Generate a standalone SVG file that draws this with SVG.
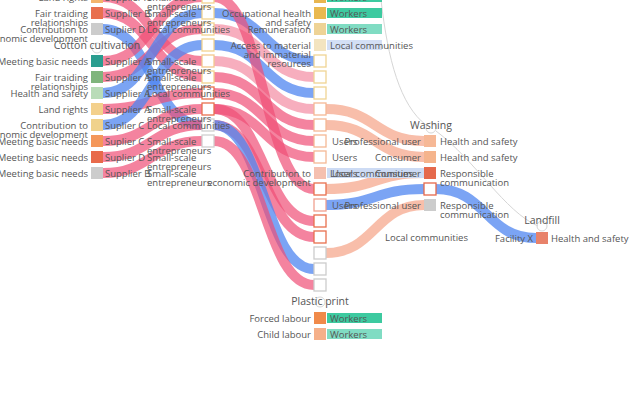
<svg xmlns="http://www.w3.org/2000/svg" width="640" height="400" viewBox="0 0 640 400">
<style>
.t{font-family:"Open Sans","Noto Sans",sans-serif;font-size:9.5px;fill:#555}
.ti{font-size:10.5px}
.e{text-anchor:end}
.m{text-anchor:middle}
.lk{fill:none;stroke-width:10}
.pk{stroke:#ef4f76;stroke-opacity:.7}
.lp{stroke:#f48ca2;stroke-opacity:.7}
.bl{stroke:#4f86f0;stroke-opacity:.75}
.sa{stroke:#f5a286;stroke-opacity:.7}
.h{fill:#fff;stroke-width:1.3}
.pl{fill:none;stroke:#d6d6d6;stroke-width:1}
</style>
<rect width="640" height="400" fill="#fff"/>
<g id="process-lines">
<path class="pl" d="M381 0 C388 60 400 105 426 125"/>
<path class="pl" d="M436 131 C475 160 505 212 538 226"/>
<circle class="pl" cx="431" cy="128" r="5"/>
<circle class="pl" cx="542" cy="226" r="5"/>
<circle class="pl" cx="320" cy="302" r="5"/>
<circle class="pl" cx="97" cy="48" r="5"/>
</g>
<g id="links">
<path class="lk pk" d="M103 -3 C152 -3 152 61 202 61"/>
<path class="lk pk" d="M103 13 C152 13 152 77 202 77"/>
<path class="lk bl" d="M103 29 C152 29 152 125 202 125"/>
<path class="lk pk" d="M103 61 C152 61 152 -3 202 -3"/>
<path class="lk pk" d="M103 77 C152 77 152 29 202 29"/>
<path class="lk bl" d="M103 93 C152 93 152 13 202 13"/>
<path class="lk pk" d="M103 109 C152 109 152 93 202 93"/>
<path class="lk bl" d="M103 125 C152 125 152 45 202 45"/>
<path class="lk pk" d="M103 141 C152 141 152 109 202 109"/>
<path class="lk pk" d="M103 157 C152 157 152 125 202 125"/>
<path class="lk pk" d="M103 173 C152 173 152 141 202 141"/>
<path class="lk bl" d="M214 13 C264 13 264 61 314 61"/>
<path class="lk lp" d="M214 29 C264 29 264 77 314 77"/>
<path class="lk bl" d="M214 45 C264 45 264 93 314 93"/>
<path class="lk lp" d="M214 61 C264 61 264 109 314 109"/>
<path class="lk pk" d="M214 77 C264 77 264 125 314 125"/>
<path class="lk pk" d="M214 93 C264 93 264 141 314 141"/>
<path class="lk pk" d="M214 109 C264 109 264 157 314 157"/>
<path class="lk pk" d="M214 -3 C264 -3 264 189 314 189"/>
<path class="lk pk" d="M214 109 C264 109 264 221 314 221"/>
<path class="lk pk" d="M214 125 C264 125 264 237 314 237"/>
<path class="lk bl" d="M214 125 C264 125 264 269 314 269"/>
<path class="lk pk" d="M214 141 C264 141 264 285 314 285"/>
<path class="lk sa" d="M326 109 C375 109 375 141 424 141"/>
<path class="lk sa" d="M326 125 C375 125 375 157 424 157"/>
<path class="lk sa" d="M326 189 C375 189 375 173 424 173"/>
<path class="lk bl" d="M326 205 C375 205 375 189 424 189"/>
<path class="lk sa" d="M326 253 C375 253 375 205 424 205"/>
<path class="lk bl" d="M436 189 C486 189 486 238 536 238"/>
</g>
<g id="bars">
<rect x="327" y="-8" width="55" height="10" fill="#3dcaa0"/>
<rect x="327" y="8" width="55" height="10" fill="#3dcaa0"/>
<rect x="327" y="24" width="55" height="10" fill="#80dcc3"/>
<rect x="327" y="40" width="55" height="10" fill="#d3dff5"/>
<rect x="327" y="168" width="97" height="10" fill="#cddbf4"/>
<rect x="327" y="313" width="55" height="10" fill="#3dcaa0"/>
<rect x="327" y="329" width="55" height="10" fill="#80dcc3"/>
</g>
<g id="col1">
<rect x="91" y="-9" width="12" height="12" fill="#f3b46c"/>
<rect x="91" y="7" width="12" height="12" fill="#e8704f"/>
<rect x="91" y="23" width="12" height="12" fill="#cccccc"/>
<rect x="91" y="55" width="12" height="12" fill="#2a9d8f"/>
<rect x="91" y="71" width="12" height="12" fill="#80b57d"/>
<rect x="91" y="87" width="12" height="12" fill="#b9dcb8"/>
<rect x="91" y="103" width="12" height="12" fill="#f3d08c"/>
<rect x="91" y="119" width="12" height="12" fill="#f0d28c"/>
<rect x="91" y="135" width="12" height="12" fill="#f4975a"/>
<rect x="91" y="151" width="12" height="12" fill="#e86a4b"/>
<rect x="91" y="167" width="12" height="12" fill="#cccccc"/>
</g>
<g id="col2">
<rect class="h" x="202" y="-9" width="12" height="12" stroke="#f3d38e"/>
<rect class="h" x="202" y="7" width="12" height="12" stroke="#f3d38e"/>
<rect class="h" x="202" y="23" width="12" height="12" stroke="#f3d38e"/>
<rect class="h" x="202" y="39" width="12" height="12" stroke="#f3d38e"/>
<rect class="h" x="202" y="55" width="12" height="12" stroke="#f3c98e"/>
<rect class="h" x="202" y="71" width="12" height="12" stroke="#f3d38e"/>
<rect class="h" x="202" y="87" width="12" height="12" stroke="#e8704f"/>
<rect class="h" x="202" y="103" width="12" height="12" stroke="#e8704f"/>
<rect class="h" x="202" y="119" width="12" height="12" stroke="#d0d0d0"/>
<rect class="h" x="202" y="135" width="12" height="12" stroke="#d0d0d0"/>
</g>
<g id="col3">
<rect x="314" y="-9" width="12" height="12" fill="#e8b64f"/>
<rect x="314" y="7" width="12" height="12" fill="#e9b950"/>
<rect x="314" y="23" width="12" height="12" fill="#eed396"/>
<rect x="314" y="39" width="12" height="12" fill="#f3e4c0"/>
<rect class="h" x="314" y="55" width="12" height="12" stroke="#f0d494"/>
<rect class="h" x="314" y="71" width="12" height="12" stroke="#f0d494"/>
<rect class="h" x="314" y="87" width="12" height="12" stroke="#f0d494"/>
<rect class="h" x="314" y="103" width="12" height="12" stroke="#f5b895"/>
<rect class="h" x="314" y="119" width="12" height="12" stroke="#f5b895"/>
<rect class="h" x="314" y="135" width="12" height="12" stroke="#f5b895"/>
<rect class="h" x="314" y="151" width="12" height="12" stroke="#f5b895"/>
<rect x="314" y="167" width="12" height="12" fill="#f5c0b0"/>
<rect class="h" x="314" y="183" width="12" height="12" stroke="#e8704f"/>
<rect class="h" x="314" y="199" width="12" height="12" stroke="#f0a090"/>
<rect class="h" x="314" y="215" width="12" height="12" stroke="#e8704f"/>
<rect class="h" x="314" y="231" width="12" height="12" stroke="#e8704f"/>
<rect class="h" x="314" y="247" width="12" height="12" stroke="#cccccc"/>
<rect class="h" x="314" y="263" width="12" height="12" stroke="#cccccc"/>
<rect class="h" x="314" y="279" width="12" height="12" stroke="#cccccc"/>
<rect x="314" y="312" width="12" height="12" fill="#f08a4a"/>
<rect x="314" y="328" width="12" height="12" fill="#f5b08a"/>
</g>
<g id="col4">
<rect x="424" y="135" width="12" height="12" fill="#f6b896"/>
<rect x="424" y="151" width="12" height="12" fill="#f5b48c"/>
<rect x="424" y="167" width="12" height="12" fill="#e5694c"/>
<rect class="h" x="424" y="183" width="12" height="12" stroke="#e5694c"/>
<rect x="424" y="199" width="12" height="12" fill="#cccccc"/>
</g>
<g id="col5">
<rect x="536" y="232" width="12" height="12" fill="#e8826a"/>
</g>
<g id="labels">
<text class="t e" x="88" y="0.5">Land rights</text>
<text class="t e" x="88" y="16.5">Fair traiding<tspan x="88" dy="9">relationships</tspan></text>
<text class="t e" x="88" y="32.5">Contribution to<tspan x="88" dy="9">economic development</tspan></text>
<text class="t ti m" x="97" y="48.5">Cotton cultivation</text>
<text class="t e" x="88" y="64.5">Meeting basic needs</text>
<text class="t e" x="88" y="80.5">Fair traiding<tspan x="88" dy="9">relationships</tspan></text>
<text class="t e" x="88" y="96.5">Health and safety</text>
<text class="t e" x="88" y="112.5">Land rights</text>
<text class="t e" x="88" y="128.5">Contribution to<tspan x="88" dy="9">economic development</tspan></text>
<text class="t e" x="88" y="144.5">Meeting basic needs</text>
<text class="t e" x="88" y="160.5">Meeting basic needs</text>
<text class="t e" x="88" y="176.5">Meeting basic needs</text>
<text class="t" x="105" y="0.5">Supplier A</text>
<text class="t" x="105" y="16.5">Supplier B</text>
<text class="t" x="105" y="32.5">Suplier D</text>
<text class="t" x="105" y="64.5">Supplier A</text>
<text class="t" x="105" y="80.5">Supplier A</text>
<text class="t" x="105" y="96.5">Supplier A</text>
<text class="t" x="105" y="112.5">Supplier A</text>
<text class="t" x="105" y="128.5">Suplier C</text>
<text class="t" x="105" y="144.5">Suplier C</text>
<text class="t" x="105" y="160.5">Suplier D</text>
<text class="t" x="105" y="176.5">Supplier B</text>
<text class="t" x="147" y="0.5">Small-scale<tspan x="147" dy="9">entrepreneurs</tspan></text>
<text class="t" x="147" y="16.5">Small-scale<tspan x="147" dy="9">entrepreneurs</tspan></text>
<text class="t" x="147" y="32.5">Local communities</text>
<text class="t" x="147" y="64.5">Small-scale<tspan x="147" dy="9">entrepreneurs</tspan></text>
<text class="t" x="147" y="80.5">Small-scale<tspan x="147" dy="9">entrepreneurs</tspan></text>
<text class="t" x="147" y="96.5">Local communities</text>
<text class="t" x="147" y="112.5">Small-scale<tspan x="147" dy="9">entrepreneurs</tspan></text>
<text class="t" x="147" y="128.5">Local communities</text>
<text class="t" x="147" y="144.5">Small-scale<tspan x="147" dy="9">entrepreneurs</tspan></text>
<text class="t" x="147" y="160.5">Small-scale<tspan x="147" dy="9">entrepreneurs</tspan></text>
<text class="t" x="147" y="176.5">Small-scale<tspan x="147" dy="9">entrepreneurs</tspan></text>
<text class="t e" x="311" y="16.5">Occupational health<tspan x="311" dy="9">and safety</tspan></text>
<text class="t e" x="311" y="32.5">Remuneration</text>
<text class="t e" x="311" y="48.5">Access to material<tspan x="311" dy="9">and immaterial</tspan><tspan x="311" dy="9">resources</tspan></text>
<text class="t e" x="311" y="176.5">Contribution to<tspan x="311" dy="9">economic development</tspan></text>
<text class="t" x="330" y="0.5" fill="#333">Workers</text>
<text class="t" x="330" y="16.5">Workers</text>
<text class="t" x="330" y="32.5">Workers</text>
<text class="t" x="330" y="48.5">Local communities</text>
<text class="t" x="330" y="176.5">Local communities</text>
<text class="t" x="332" y="144.5">Users</text>
<text class="t" x="332" y="160.5">Users</text>
<text class="t" x="332" y="176.5">Users</text>
<text class="t" x="332" y="208.5">Users</text>
<text class="t e" x="421" y="144.5">Professional user</text>
<text class="t e" x="421" y="160.5">Consumer</text>
<text class="t e" x="421" y="176.5">Consumer</text>
<text class="t e" x="421" y="208.5">Professional user</text>
<text class="t" x="385" y="240.5">Local communities</text>
<text class="t ti m" x="431" y="128.5">Washing</text>
<text class="t" x="440" y="144.5">Health and safety</text>
<text class="t" x="440" y="160.5">Health and safety</text>
<text class="t" x="440" y="176.5">Responsible<tspan x="440" dy="9">communication</tspan></text>
<text class="t" x="440" y="208.5">Responsible<tspan x="440" dy="9">communication</tspan></text>
<text class="t ti m" x="542" y="223.5">Landfill</text>
<text class="t e" x="533" y="241.5">Facility X</text>
<text class="t" x="551" y="241.5">Health and safety</text>
<text class="t ti m" x="320" y="304.5">Plastic print</text>
<text class="t e" x="311" y="321.5">Forced labour</text>
<text class="t" x="330" y="321.5">Workers</text>
<text class="t e" x="311" y="337.5">Child labour</text>
<text class="t" x="330" y="337.5">Workers</text>
</g>
</svg>
